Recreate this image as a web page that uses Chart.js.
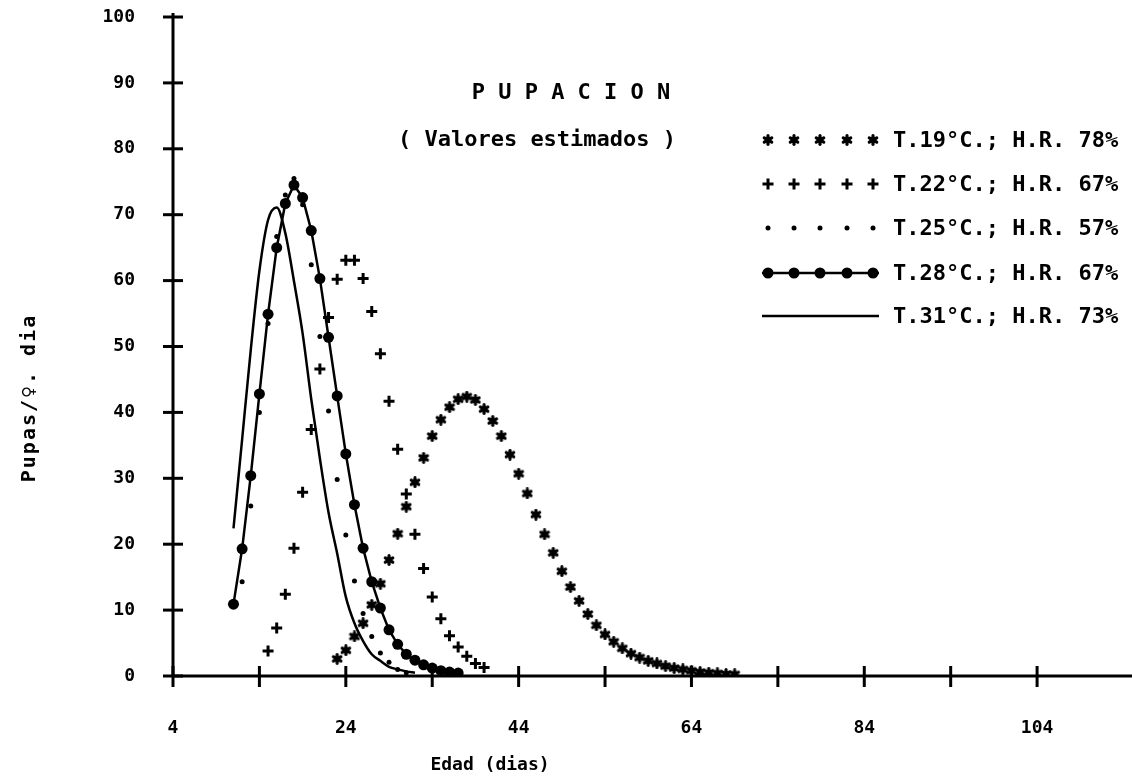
<!DOCTYPE html>
<html>
<head>
<meta charset="utf-8">
<script src="https://cdn.jsdelivr.net/npm/chart.js@4.4.0/dist/chart.umd.min.js"></script>
<style>
    html, body { margin: 0; padding: 0; background: #fff; }
    #wrap { width: 1132px; height: 778px; }
</style>
</head>
<body>
<div id="wrap"><canvas id="chart" width="1132" height="778"></canvas></div>
<script>
const FONT = '"DejaVu Sans Mono", "Liberation Mono", monospace';

// leyenda
const seriesLabels = [
    'T.19°C.; H.R. 78%',
    'T.22°C.; H.R. 67%',
    'T.25°C.; H.R. 57%',
    'T.28°C.; H.R. 67%',
    'T.31°C.; H.R. 73%'
];

// ejes
const xTicks = [4, 14, 24, 34, 44, 54, 64, 74, 84, 94, 104];
const xTickLabels = ['4', '', '24', '', '44', '', '64', '', '84', '', '104'];
const yTicks = [0, 10, 20, 30, 40, 50, 60, 70, 80, 90, 100];
const yTickLabels = ['0', '10', '20', '30', '40', '50', '60', '70', '80', '90', '100'];

// T.19 (asteriscos)
const daysT19 = [23, 24, 25, 26, 27, 28, 29, 30, 31, 32, 33, 34, 35, 36, 37, 38, 39, 40, 41, 42, 43, 44, 45, 46,
    47, 48, 49, 50, 51, 52, 53, 54, 55, 56, 57, 58, 59, 60, 61, 62, 63, 64, 65, 66, 67, 68, 69];
const pupasT19 = [2.6, 3.9, 6.0, 8.0, 10.8, 14.0, 17.6, 21.6, 25.7, 29.4, 33.1, 36.4, 38.9, 40.8, 42.0, 42.4, 41.9,
    40.5, 38.7, 36.4, 33.6, 30.7, 27.7, 24.5, 21.5, 18.7, 15.9, 13.5, 11.4, 9.4, 7.7, 6.3, 5.2, 4.2, 3.4, 2.8, 2.3,
    1.9, 1.5, 1.2, 1.0, 0.8, 0.6, 0.5, 0.4, 0.3, 0.25];

// T.22 (cruces)
const daysT22 = [15, 16, 17, 18, 19, 20, 21, 22, 23, 24, 25, 26, 27, 28, 29, 30, 31, 32, 33, 34, 35, 36, 37, 38, 39, 40];
const pupasT22 = [3.8, 7.3, 12.4, 19.4, 27.9, 37.4, 46.6, 54.4, 60.2, 63.1, 63.1, 60.3, 55.3, 48.9, 41.7, 34.4, 27.6,
    21.5, 16.3, 12.0, 8.7, 6.1, 4.4, 3.0, 1.9, 1.3];

// T.25 (puntos)
const daysT25 = [12, 13, 14, 15, 16, 17, 18, 19, 20, 21, 22, 23, 24, 25, 26, 27, 28, 29, 30, 31];
const pupasT25 = [14.3, 25.8, 40.0, 53.5, 66.7, 73.0, 75.5, 71.5, 62.4, 51.5, 40.2, 29.8, 21.4, 14.4, 9.5, 6.0, 3.5,
    2.1, 1.0, 0.5];

// T.28 (linea con circulos)
const daysT28 = [11, 12, 13, 14, 15, 16, 17, 18, 19, 20, 21, 22, 23, 24, 25, 26, 27, 28, 29, 30, 31, 32, 33, 34, 35, 36, 37];
const pupasT28 = [10.9, 19.3, 30.4, 42.8, 54.9, 65.0, 71.7, 74.5, 72.6, 67.6, 60.3, 51.4, 42.5, 33.7, 26.0, 19.4, 14.3,
    10.3, 7.0, 4.8, 3.3, 2.4, 1.7, 1.2, 0.8, 0.6, 0.45];

// T.31 (linea continua)
const daysT31 = [11, 12, 13, 14, 15, 16, 17, 18, 19, 20, 21, 22, 23, 24, 25, 26, 27, 28, 29, 30, 31, 32];
const pupasT31 = [22.4, 35.9, 49.5, 61.5, 69.2, 71.1, 67.2, 59.9, 52.0, 42.0, 33.0, 24.8, 18.6, 12.0, 8.0, 5.3, 3.3,
    2.3, 1.4, 1.0, 0.7, 0.5];

function toPoints(days, vals) {
    return days.map((d, i) => ({ x: d, y: vals[i] }));
}

// asterisco grueso de 6 puntas, como el del plotter
function makeAsterisk() {
    const c = document.createElement('canvas');
    c.width = 12;
    c.height = 12;
    const g = c.getContext('2d');
    g.strokeStyle = '#000';
    g.fillStyle = '#000';
    g.lineWidth = 3.2;
    g.lineCap = 'round';
    for (let k = 0; k < 3; k++) {
        const a = Math.PI / 2 + k * Math.PI / 3;
        g.beginPath();
        g.moveTo(6 + Math.cos(a) * 4.3, 6 + Math.sin(a) * 4.3);
        g.lineTo(6 - Math.cos(a) * 4.3, 6 - Math.sin(a) * 4.3);
        g.stroke();
    }
    g.beginPath();
    g.arc(6, 6, 3.2, 0, Math.PI * 2);
    g.fill();
    return c;
}

const datasets = [
    {
        label: seriesLabels[0],
        data: toPoints(daysT19, pupasT19),
        showLine: false,
        pointStyle: makeAsterisk(),
        pointRadius: 5,
        pointBorderWidth: 0,
        borderColor: '#000',
        backgroundColor: '#000'
    },
    {
        label: seriesLabels[1],
        data: toPoints(daysT22, pupasT22),
        showLine: false,
        pointStyle: 'cross',
        pointRadius: 5.5,
        pointBorderWidth: 3,
        borderColor: '#000',
        backgroundColor: '#000'
    },
    {
        label: seriesLabels[2],
        data: toPoints(daysT25, pupasT25),
        showLine: false,
        pointStyle: 'circle',
        pointRadius: 2.5,
        pointBorderWidth: 0,
        borderColor: '#000',
        backgroundColor: '#000'
    },
    {
        label: seriesLabels[3],
        data: toPoints(daysT28, pupasT28),
        showLine: true,
        borderWidth: 2.5,
        tension: 0,
        pointStyle: 'circle',
        pointRadius: 5.5,
        pointBorderWidth: 0,
        borderColor: '#000',
        backgroundColor: '#000'
    },
    {
        label: seriesLabels[4],
        data: toPoints(daysT31, pupasT31),
        showLine: true,
        borderWidth: 2.5,
        cubicInterpolationMode: 'monotone',
        pointRadius: 0,
        borderColor: '#000',
        backgroundColor: '#000'
    }
];

// ejes, titulos y leyenda dibujados a mano
const decorPlugin = {
    id: 'decor',
    afterDraw(chart) {
        const ctx = chart.ctx;
        const xs = chart.scales.x;
        const ys = chart.scales.y;
        const x0 = xs.getPixelForValue(4);
        const y0 = ys.getPixelForValue(0);
        ctx.save();
        ctx.strokeStyle = '#000';
        ctx.fillStyle = '#000';
        ctx.lineWidth = 3;
        ctx.lineCap = 'butt';

        // lineas de ejes
        ctx.beginPath();
        ctx.moveTo(x0, ys.getPixelForValue(100) - 4);
        ctx.lineTo(x0, y0);
        ctx.lineTo(chart.width, y0);
        ctx.stroke();

        // marcas
        yTicks.forEach(v => {
            const y = ys.getPixelForValue(v);
            ctx.beginPath();
            ctx.moveTo(x0 - 10, y);
            ctx.lineTo(x0 + 10, y);
            ctx.stroke();
        });
        xTicks.forEach(v => {
            const x = xs.getPixelForValue(v);
            ctx.beginPath();
            ctx.moveTo(x, y0 - 10);
            ctx.lineTo(x, y0 + 11);
            ctx.stroke();
        });

        // titulos
        ctx.textAlign = 'center';
        ctx.textBaseline = 'middle';
        ctx.font = 'bold 22px ' + FONT;
        ctx.fillText('P U P A C I O N', 571, 93);
        ctx.fillText('( Valores estimados )', 537, 140);

        ctx.font = 'bold 18px ' + FONT;
        ctx.fillText('Edad (dias)', 490, 765);

        ctx.save();
        ctx.translate(30, 398);
        ctx.rotate(-Math.PI / 2);
        ctx.font = 'bold 20px ' + FONT;
        ctx.letterSpacing = '2px';
        ctx.fillText('Pupas/♀. dia', 0, 0);
        ctx.restore();

        // leyenda
        const rowY = [140, 184, 228, 273, 316];
        const symX = [768, 794, 820, 847, 873];
        chart.data.datasets.forEach((ds, i) => {
            const y = rowY[i];
            ctx.lineWidth = ds.borderWidth || 2.5;
            if (ds.showLine) {
                ctx.beginPath();
                ctx.moveTo(762, y);
                ctx.lineTo(879, y);
                ctx.stroke();
            }
            if (ds.pointRadius > 0) {
                symX.forEach(x => {
                    ctx.lineWidth = ds.pointBorderWidth || 1;
                    Chart.helpers.drawPoint(ctx, {
                        pointStyle: ds.pointStyle,
                        radius: ds.pointRadius,
                        rotation: 0,
                        borderWidth: ds.pointBorderWidth
                    }, x, y);
                });
            }
            ctx.font = 'bold 22px ' + FONT;
            ctx.textAlign = 'left';
            ctx.fillText(ds.label, 893, y + 1);
        });
        ctx.restore();
    }
};

new Chart(document.getElementById('chart'), {
    type: 'scatter',
    data: { datasets: datasets },
    options: {
        responsive: false,
        animation: false,
        devicePixelRatio: 1,
        layout: { padding: { top: 17, right: 0, left: 0, bottom: 0 } },
        plugins: {
            legend: { display: false },
            tooltip: { enabled: false }
        },
        scales: {
            x: {
                type: 'linear',
                min: 4,
                max: 114,
                afterBuildTicks: (scale) => { scale.ticks = xTicks.map(v => ({ value: v })); },
                afterFit: (scale) => {
                    scale.height = 102;
                    scale.paddingLeft = 0;
                    scale.paddingRight = 0;
                },
                grid: { display: false },
                border: { display: false },
                ticks: {
                    autoSkip: false,
                    maxRotation: 0,
                    padding: 34,
                    color: '#000',
                    font: { family: FONT, size: 18, weight: 'bold' },
                    callback: (v) => xTickLabels[xTicks.indexOf(v)]
                }
            },
            y: {
                min: 0,
                max: 100,
                afterBuildTicks: (scale) => { scale.ticks = yTicks.map(v => ({ value: v })); },
                afterFit: (scale) => {
                    scale.width = 173;
                    scale.paddingTop = 0;
                    scale.paddingBottom = 0;
                },
                grid: { display: false },
                border: { display: false },
                ticks: {
                    padding: 30,
                    color: '#000',
                    font: { family: FONT, size: 18, weight: 'bold' },
                    callback: (v) => yTickLabels[yTicks.indexOf(v)]
                }
            }
        }
    },
    plugins: [decorPlugin]
});
</script>
</body>
</html>
